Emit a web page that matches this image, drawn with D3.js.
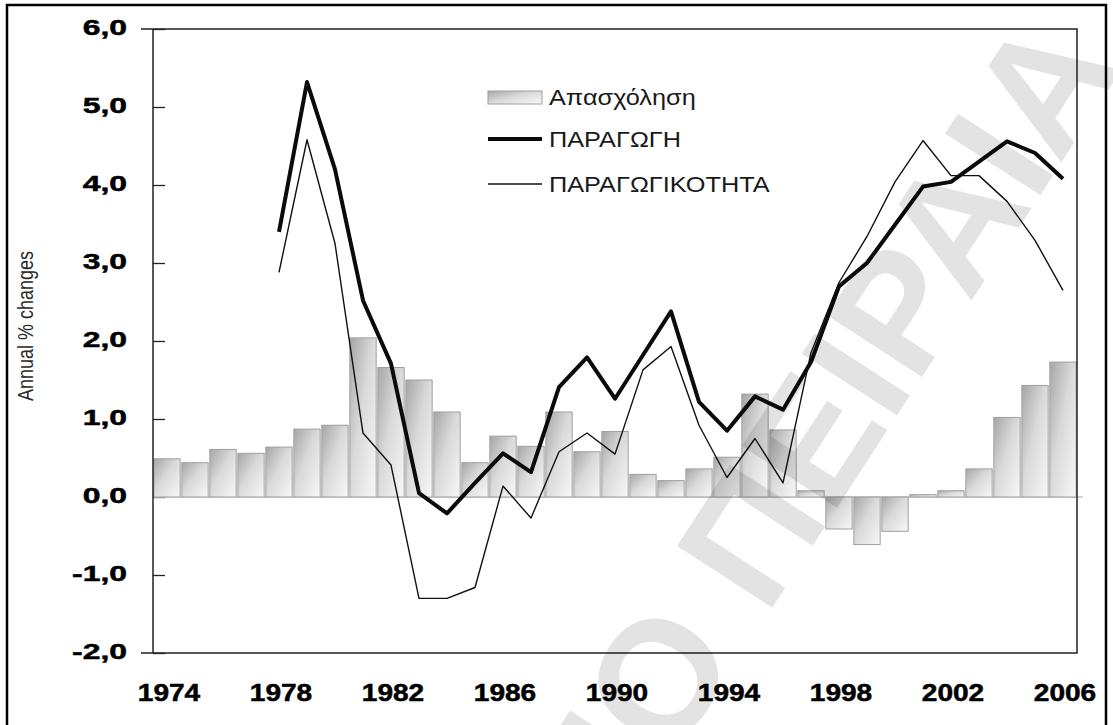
<!DOCTYPE html>
<html>
<head>
<meta charset="utf-8">
<script src="https://cdn.jsdelivr.net/npm/d3@7"></script>
<style>
  html, body { margin: 0; padding: 0; background: #fff; }
  svg { display: block; }
</style>
</head>
<body>
<div id="chart"></div>
<script>
// years on the band axis (one bar per year)
const years = ["1974", "1975", "1976", "1977", "1978", "1979", "1980", "1981", "1982",
  "1983", "1984", "1985", "1986", "1987", "1988", "1989", "1990", "1991", "1992",
  "1993", "1994", "1995", "1996", "1997", "1998", "1999", "2000", "2001", "2002",
  "2003", "2004", "2005", "2006"];

// Απασχόληση, annual % change (bars)
const employment = [0.49, 0.44, 0.61, 0.56, 0.64, 0.87, 0.92, 2.04, 1.66,
  1.50, 1.09, 0.44, 0.78, 0.65, 1.09, 0.58, 0.84, 0.29, 0.21,
  0.36, 0.51, 1.32, 0.86, 0.08, -0.41, -0.61, -0.44, 0.03, 0.08,
  0.36, 1.02, 1.43, 1.73];

// the two lines start in 1978
const lineYears = ["1978", "1979", "1980", "1981", "1982", "1983", "1984", "1985",
  "1986", "1987", "1988", "1989", "1990", "1991", "1992", "1993", "1994", "1995",
  "1996", "1997", "1998", "1999", "2000", "2001", "2002", "2003", "2004", "2005", "2006"];

// ΠΑΡΑΓΩΓΗ (thick line)
const production = [3.40, 5.32, 4.20, 2.52, 1.71, 0.05, -0.21, 0.18,
  0.56, 0.32, 1.41, 1.79, 1.26, 1.82, 2.38, 1.22, 0.85, 1.29,
  1.12, 1.73, 2.70, 3.00, 3.49, 3.98, 4.04, 4.30, 4.56, 4.41, 4.08];

// ΠΑΡΑΓΩΓΙΚΟΤΗΤΑ (thin line)
const productivity = [2.88, 4.58, 3.25, 0.82, 0.41, -1.30, -1.30, -1.16,
  0.14, -0.27, 0.58, 0.82, 0.55, 1.63, 1.93, 0.92, 0.25, 0.75,
  0.18, 1.85, 2.75, 3.34, 4.04, 4.57, 4.12, 4.12, 3.79, 3.29, 2.65];

const yTicks = [-2, -1, 0, 1, 2, 3, 4, 5, 6];
const xTicks = ["1974", "1978", "1982", "1986", "1990", "1994", "1998", "2002", "2006"];
const legendLabels = ["Απασχόληση", "ΠΑΡΑΓΩΓΗ", "ΠΑΡΑΓΩΓΙΚΟΤΗΤΑ"];
const yTitle = "Annual % changes";
const watermark = "ΠΑΝΕΠΙΣΤΗΜΙΟ ΠΕΙΡΑΙΑ";

const width = 1113, height = 725;
const marginTop = 29, marginRight = 36, marginBottom = 72, marginLeft = 153;

function fmt(d) {
  // greek style decimals, plain hyphen for negatives
  return (d < 0 ? "-" : "") + Math.abs(d).toFixed(1).replace(".", ",");
}

function draw() {
  const x = d3.scaleBand(years, [marginLeft, width - marginRight]).paddingInner(0.06).paddingOuter(0.03);
  const y = d3.scaleLinear([-2, 6], [height - marginBottom, marginTop]);
  const cx = d => x(d) + x.bandwidth() / 2;

  const svg = d3.create("svg")
      .attr("width", width)
      .attr("height", height)
      .attr("viewBox", [0, 0, width, height])
      .style("font-family", "'Liberation Sans', Arial, sans-serif");

  svg.append("rect").attr("width", width).attr("height", height).attr("fill", "#fff");

  // bar gradient
  const defs = svg.append("defs");
  const grad = defs.append("linearGradient")
      .attr("id", "barFill")
      .attr("x1", 0).attr("y1", 0).attr("x2", 1).attr("y2", 1);
  grad.append("stop").attr("offset", "0%").attr("stop-color", "#a6a6a6");
  grad.append("stop").attr("offset", "45%").attr("stop-color", "#d9d9d9");
  grad.append("stop").attr("offset", "100%").attr("stop-color", "#f8f8f8");

  // outer frame (bottom edge runs past the picture)
  svg.append("rect")
      .attr("x", 7).attr("y", 5)
      .attr("width", 1099).attr("height", 760)
      .attr("fill", "none")
      .attr("stroke", "#000")
      .attr("stroke-width", 2.5);

  // y axis with ticks crossing the axis line
  svg.append("g")
      .attr("transform", `translate(${marginLeft},0)`)
      .call(d3.axisLeft(y).tickValues(yTicks).tickFormat(fmt).tickSize(12))
      .call(g => g.select(".domain").remove())
      .call(g => g.selectAll(".tick line").attr("x2", 12).attr("stroke", "#222").attr("stroke-width", 1.3))
      .call(g => g.selectAll(".tick text")
          .attr("x", 0).attr("dy", "0.27em")
          .attr("transform", "translate(-26,0) scale(1.45,1)")
          .attr("fill", "#000")
          .attr("stroke", "#000").attr("stroke-width", 0.5)
          .attr("font-size", 22).attr("font-weight", "bold"));

  // zero line
  svg.append("line")
      .attr("x1", marginLeft).attr("x2", width - marginRight + 6)
      .attr("y1", y(0)).attr("y2", y(0))
      .attr("stroke", "#c4c4c4").attr("stroke-width", 1.5);

  // bars
  svg.append("g")
    .selectAll("rect")
    .data(employment)
    .join("rect")
      .attr("x", (d, i) => x(years[i]))
      .attr("width", x.bandwidth())
      .attr("y", d => y(Math.max(0, d)))
      .attr("height", d => Math.abs(y(d) - y(0)))
      .attr("fill", "url(#barFill)")
      .attr("stroke", "#a0a0a0")
      .attr("stroke-width", 1);

  // plot frame
  svg.append("path")
      .attr("d", `M${marginLeft - 12},${marginTop}H${width - marginRight}V${height - marginBottom}H${marginLeft - 12}`
        + `M${marginLeft},${marginTop}V${height - marginBottom}`)
      .attr("fill", "none")
      .attr("stroke", "#222")
      .attr("stroke-width", 1.5);

  // lines
  const line = d3.line()
      .x((d, i) => cx(lineYears[i]))
      .y(d => y(d));

  svg.append("path")
      .datum(productivity)
      .attr("d", line)
      .attr("fill", "none")
      .attr("stroke", "#111")
      .attr("stroke-width", 1.4)
      .attr("stroke-linejoin", "round");

  svg.append("path")
      .datum(production)
      .attr("d", line)
      .attr("fill", "none")
      .attr("stroke", "#0b0b0b")
      .attr("stroke-width", 4)
      .attr("stroke-linejoin", "round");

  // x labels
  svg.append("g")
      .attr("transform", `translate(0,${height - marginBottom})`)
      .call(d3.axisBottom(x).tickValues(xTicks).tickSize(0))
      .call(g => g.select(".domain").remove())
      .call(g => g.selectAll(".tick text")
          .attr("y", 0).attr("dy", null)
          .attr("transform", "translate(2,48) scale(1.17,1)")
          .attr("fill", "#000")
          .attr("stroke", "#000").attr("stroke-width", 0.5)
          .attr("font-size", 24).attr("font-weight", "bold"));

  // y title
  svg.append("text")
      .attr("transform", "translate(33,326) rotate(-90) scale(1,1.25)")
      .attr("text-anchor", "middle")
      .attr("font-size", 18)
      .attr("fill", "#2a2a2a")
      .text(yTitle);

  // legend
  const legendY = [97, 139, 184];
  const lg = svg.append("g");
  lg.append("rect")
      .attr("x", 488).attr("y", legendY[0] - 6)
      .attr("width", 54).attr("height", 13)
      .attr("fill", "url(#barFill)")
      .attr("stroke", "#a0a0a0");
  lg.append("line")
      .attr("x1", 488).attr("x2", 542)
      .attr("y1", legendY[1]).attr("y2", legendY[1])
      .attr("stroke", "#0b0b0b").attr("stroke-width", 4);
  lg.append("line")
      .attr("x1", 488).attr("x2", 542)
      .attr("y1", legendY[2]).attr("y2", legendY[2])
      .attr("stroke", "#111").attr("stroke-width", 1.4);
  lg.selectAll("text")
    .data(legendLabels)
    .join("text")
      .attr("transform", (d, i) => `translate(549,${legendY[i]}) scale(1.15,1)`)
      .attr("dy", "0.36em")
      .attr("font-size", 22)
      .attr("fill", "#1a1a1a")
      .text(d => d);

  // faint watermark across the plot
  svg.append("text")
      .attr("transform", "translate(1124,66) rotate(-57)")
      .attr("text-anchor", "end")
      .attr("font-weight", "bold")
      .attr("font-size", 165)
      .attr("fill", "#000")
      .attr("fill-opacity", 0.11)
      .text(watermark);

  document.getElementById("chart").appendChild(svg.node());
}

window.addEventListener("load", draw);
</script>
</body>
</html>
